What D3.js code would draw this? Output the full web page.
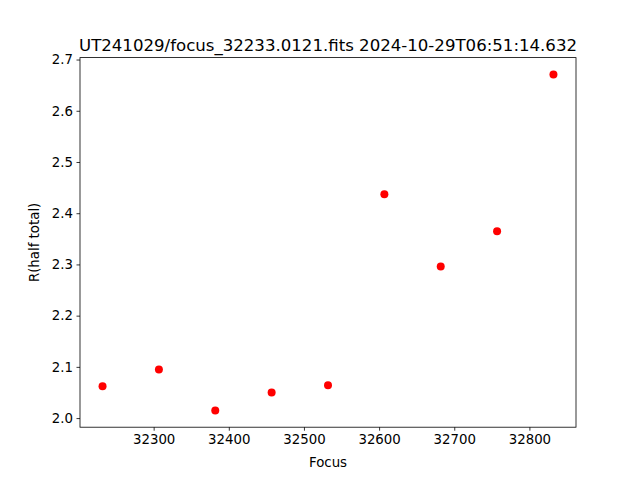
<!DOCTYPE html>
<html>
<head>
<meta charset="utf-8">
<script src="https://cdn.jsdelivr.net/npm/d3@7"></script>
<style>
body { margin: 0; background: #fff; }
text { font-family: "DejaVu Sans", sans-serif; }
</style>
</head>
<body>
<div id="chart"></div>
<script>
// data
var focus = [32232, 32307, 32382, 32457, 32532, 32607, 32682, 32757, 32832];
var rHalf = [2.062, 2.095, 2.015, 2.050, 2.064, 2.437, 2.296, 2.365, 2.671];
var xTicks = [32300, 32400, 32500, 32600, 32700, 32800];
var yTicks = [2.0, 2.1, 2.2, 2.3, 2.4, 2.5, 2.6, 2.7];
var title = "UT241029/focus_32233.0121.fits 2024-10-29T06:51:14.632";

var width = 640, height = 480;
var margin = {left: 80, right: 64, top: 57.6, bottom: 52.8};

var svg = d3.select("#chart")
    .append("svg")
    .attr("width", width)
    .attr("height", height);

// matplotlib style 5% padding
function padded(vals) {
    var lo = d3.min(vals), hi = d3.max(vals), p = (hi - lo) * 0.05;
    return [lo - p, hi + p];
}

var x = d3.scaleLinear()
    .domain(padded(focus))
    .range([margin.left, width - margin.right]);

var y = d3.scaleLinear()
    .domain(padded(rHalf))
    .range([height - margin.bottom, margin.top]);

var xAxis = svg.append("g")
    .attr("transform", "translate(0," + (height - margin.bottom) + ")")
    .call(d3.axisBottom(x).tickValues(xTicks).tickFormat(d3.format("d")).tickSize(3.5).tickPadding(3.5));

var yAxis = svg.append("g")
    .attr("transform", "translate(" + margin.left + ",0)")
    .call(d3.axisLeft(y).tickValues(yTicks).tickFormat(d3.format(".1f")).tickSize(3.5).tickPadding(3.5));

[xAxis, yAxis].forEach(function(g) {
    g.select(".domain").remove();
    g.selectAll("text").attr("font-size", "13.33px").attr("fill", "#000")
        .style("font-family", "DejaVu Sans, sans-serif");
    g.selectAll("line").attr("stroke", "#000").attr("stroke-width", 0.8);
});

// frame
svg.append("rect")
    .attr("x", margin.left)
    .attr("y", margin.top)
    .attr("width", width - margin.left - margin.right)
    .attr("height", height - margin.top - margin.bottom)
    .attr("fill", "none")
    .attr("stroke", "#000")
    .attr("stroke-width", 0.8);

// points
svg.selectAll("circle.pt")
    .data(focus)
    .enter()
    .append("circle")
    .attr("class", "pt")
    .attr("cx", function(d) { return x(d); })
    .attr("cy", function(d, i) { return y(rHalf[i]); })
    .attr("r", 4)
    .attr("fill", "#ff0000");

// labels
svg.append("text")
    .attr("x", (margin.left + width - margin.right) / 2)
    .attr("y", margin.top - 7)
    .attr("text-anchor", "middle")
    .attr("font-size", "16px")
    .attr("textLength", 498)
    .attr("lengthAdjust", "spacingAndGlyphs")
    .text(title);

svg.append("text")
    .attr("x", (margin.left + width - margin.right) / 2)
    .attr("y", 467)
    .attr("text-anchor", "middle")
    .attr("font-size", "13.33px")
    .text("Focus");

svg.append("text")
    .attr("transform", "translate(39," + ((margin.top + height - margin.bottom) / 2) + ") rotate(-90)")
    .attr("text-anchor", "middle")
    .attr("font-size", "13.33px")
    .text("R(half total)");
</script>
</body>
</html>
